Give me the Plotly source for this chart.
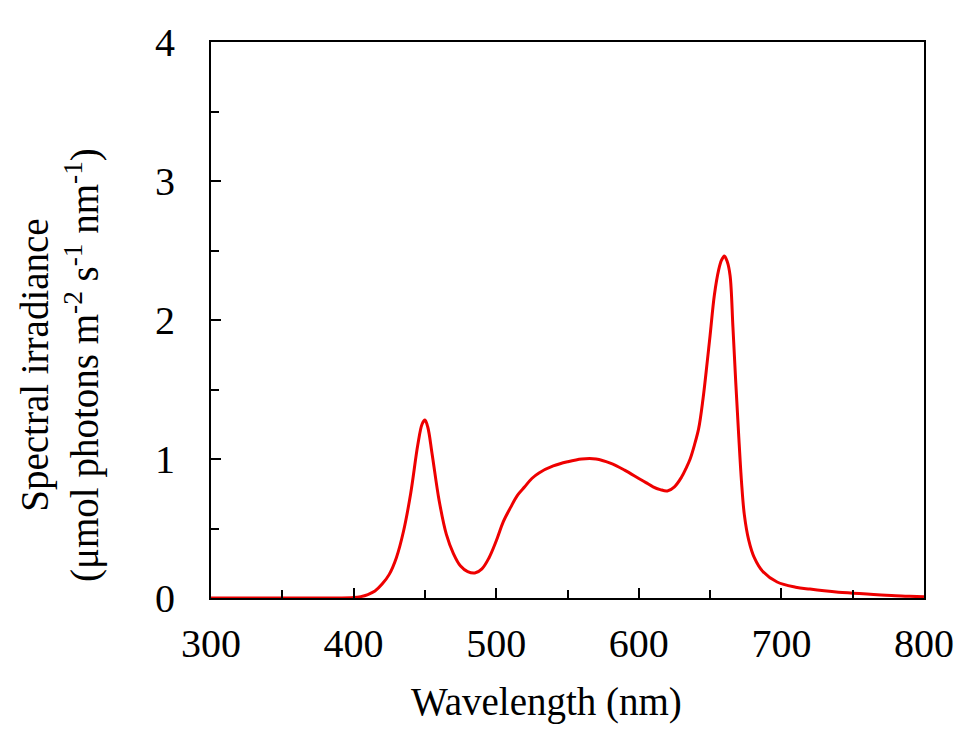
import plotly.graph_objects as go

# spectrum
wavelength = [300, 350, 390, 400, 405, 410, 415, 420, 425, 430, 435, 440, 445, 448, 450,
              452, 455, 460, 465, 470, 475, 480, 485, 490, 495, 500, 505, 510, 515, 520,
              525, 530, 540, 550, 560, 570, 580, 590, 600, 605, 610, 615, 620, 625, 630,
              633, 636, 639, 642, 645, 648, 650, 653, 656, 658, 660, 662, 664, 666, 668,
              670, 672, 674, 677, 681, 687, 697, 710, 720, 730, 740, 750, 760, 770, 780,
              790, 800]
irradiance = [0.0, 0.0, 0.0, 0.003, 0.01, 0.025, 0.05, 0.10, 0.17, 0.29, 0.48, 0.75, 1.10, 1.25, 1.28,
              1.23, 1.04, 0.70, 0.46, 0.32, 0.23, 0.19, 0.18, 0.21, 0.29, 0.41, 0.55, 0.65, 0.74, 0.80,
              0.86, 0.90, 0.95, 0.98, 1.00, 1.00, 0.97, 0.92, 0.86, 0.83, 0.80, 0.78, 0.77, 0.80, 0.87,
              0.93, 1.00, 1.10, 1.22, 1.43, 1.70, 1.89, 2.18, 2.36, 2.43, 2.46, 2.42, 2.32, 1.95, 1.55,
              1.18, 0.84, 0.60, 0.42, 0.29, 0.19, 0.115, 0.078, 0.064, 0.052, 0.042, 0.035, 0.028, 0.022, 0.016,
              0.012, 0.009]

x_ticks = [300, 400, 500, 600, 700, 800]
y_ticks = [0, 1, 2, 3, 4]

x_title = "Wavelength (nm)"
y_title = "Spectral irradiance<br>(μmol photons m<sup>-2</sup> s<sup>-1</sup> nm<sup>-1</sup>)"

font_name = "Liberation Serif"

fig = go.Figure()
fig.add_trace(go.Scatter(x=wavelength, y=irradiance, mode="lines",
                         line=dict(color="#ee0000", width=3, shape="spline", smoothing=1.0),
                         showlegend=False))

# titles sit a bit off-centre in the original, so they are placed as annotations
fig.add_annotation(text=x_title, xref="paper", yref="paper", x=0.471, y=-0.187,
                   xanchor="center", yanchor="middle", showarrow=False,
                   font=dict(family=font_name, size=39))
fig.add_annotation(text=y_title, xref="paper", yref="paper", x=-0.212, y=0.419,
                   xanchor="center", yanchor="middle", showarrow=False, textangle=-90,
                   font=dict(family=font_name, size=39))

fig.update_layout(
    width=975, height=746,
    margin=dict(l=203, r=59, t=25, b=156),
    plot_bgcolor="white", paper_bgcolor="white",
    font=dict(family=font_name, size=30, color="black"),
    xaxis=dict(range=[300, 800], tickvals=x_ticks, ticks="inside", ticklen=10, tickwidth=2,
               tickcolor="black", showline=True, linecolor="black", linewidth=2, mirror=True,
               showgrid=False, zeroline=False, ticklabelstandoff=9,
               tickfont=dict(family=font_name, size=40),
               minor=dict(dtick=50, ticks="inside", ticklen=8, tickwidth=2, tickcolor="black")),
    yaxis=dict(range=[0, 4], tickvals=y_ticks, ticks="inside", ticklen=10, tickwidth=2,
               tickcolor="black", showline=True, linecolor="black", linewidth=2, mirror=True,
               showgrid=False, zeroline=False, ticklabelstandoff=26,
               tickfont=dict(family=font_name, size=40),
               minor=dict(dtick=0.5, ticks="inside", ticklen=8, tickwidth=2, tickcolor="black")),
)

fig.write_html("out.html")
